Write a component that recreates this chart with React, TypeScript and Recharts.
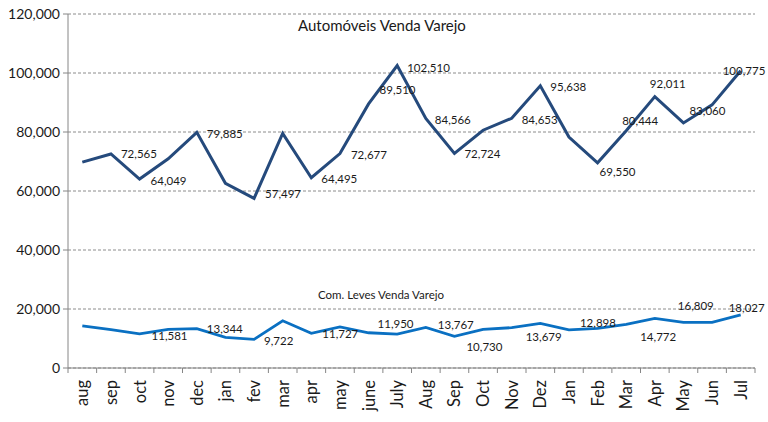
import React from 'react';
import { LineChart, Line, XAxis, YAxis, CartesianGrid } from 'recharts';

const months = [
  'aug', 'sep', 'oct', 'nov', 'dec', 'jan', 'fev', 'mar', 'apr', 'may', 'june', 'July',
  'Aug', 'Sep', 'Oct', 'Nov', 'Dez', 'Jan', 'Feb', 'Mar', 'Apr', 'May', 'Jun', 'Jul',
];

const automoveis = [
  69800, 72565, 64049, 70900, 79885, 62600, 57497, 79500, 64495, 72677, 89510, 102510,
  84566, 72724, 80600, 84653, 95638, 78300, 69550, 80444, 92011, 83060, 89200, 100775,
];

const comLeves = [
  14300, 13000, 11581, 13100, 13344, 10400, 9722, 16000, 11727, 13900, 11950, 11500,
  13767, 10730, 13100, 13679, 15100, 12898, 13400, 14772, 16809, 15500, 15500, 18027,
];

const yTicks = [0, 20000, 40000, 60000, 80000, 100000, 120000];

// label nudges (dx, dy) for the points that carry a data label
const autoLabelNudge: Record<number, [number, number]> = {
  1: [10, 0], 2: [11, 1], 4: [10, 1], 6: [11, -5], 8: [10, 1], 9: [11, 1], 10: [11, -14],
  11: [10, 2], 12: [9, 1], 13: [10, 0], 15: [10, 1], 16: [10, 1], 18: [2, 9], 19: [-4, -10],
  20: [-5, -13], 21: [6, -12], 23: [-18, 0],
};
const levesLabelNudge: Record<number, [number, number]> = {
  2: [12, 2], 4: [10, 0], 6: [10, 1], 8: [11, 0], 10: [9, -9], 12: [12, -3], 13: [12, 10],
  15: [14, 9], 17: [11, -7], 19: [14, 12], 20: [23, -13], 23: [-12, -7],
};

const data = months.map((m, i) => ({ month: m, auto: automoveis[i], leves: comLeves[i] }));

const W = 768;
const H = 422;
const M = { top: 14, right: 13, left: 8, bottom: 0 };
const Y_W = 60;
const STEP = (W - M.left - M.right - Y_W) / months.length;
const FONT = 'Lato, "Open Sans", sans-serif';
const fmt = (v: number) => v.toLocaleString('en-US');

const makeLabel = (nudge: Record<number, [number, number]>) => (props: any) => {
  const { x, y, value, index } = props;
  const n = nudge[index];
  if (!n) return null;
  return (
    <text
      x={x + n[0]}
      y={y + n[1]}
      fontSize={11.5}
      fontFamily={FONT}
      fill="#1a1a1a"
      textAnchor="start"
      dominantBaseline="central"
    >
      {fmt(Number(value))}
    </text>
  );
};

const MonthTick = (props: any) => {
  const { x, y, payload, index } = props;
  const axisY = y - 12;
  const left = x - STEP / 2;
  return (
    <g>
      <line x1={left} y1={axisY} x2={left} y2={axisY + 5} stroke="#868686" />
      {index === months.length - 1 && (
        <line x1={x + STEP / 2} y1={axisY} x2={x + STEP / 2} y2={axisY + 5} stroke="#868686" />
      )}
      <text
        x={x}
        y={y}
        transform={`rotate(-90, ${x}, ${y})`}
        textAnchor="end"
        dominantBaseline="central"
        fontSize={16.5}
        fontFamily={FONT}
        fill="#1a1a1a"
      >
        {payload.value}
      </text>
    </g>
  );
};

const App: React.FC = () => {
  return (
    <div style={{ position: 'absolute', left: 0, top: 0, width: W, height: H, background: '#fff' }}>
      <LineChart width={W} height={H} data={data} margin={M}>
        <CartesianGrid vertical={false} stroke="#8c8c8c" strokeDasharray="3 2" />
        <XAxis
          dataKey="month"
          interval={0}
          height={H - 368}
          padding={{ left: STEP / 2, right: STEP / 2 }}
          stroke="#868686"
          tickLine={false}
          tickSize={5}
          tickMargin={7}
          tick={<MonthTick />}
        />
        <YAxis
          width={Y_W}
          domain={[0, 120000]}
          ticks={yTicks}
          tickFormatter={fmt}
          stroke="#868686"
          tickSize={5}
          tickMargin={3}
          tick={{ fontSize: 14, fontFamily: FONT, fill: '#1a1a1a' }}
        />
        <Line
          dataKey="auto"
          stroke="#254A7C"
          strokeWidth={3}
          dot={false}
          isAnimationActive={false}
          label={makeLabel(autoLabelNudge)}
        />
        <Line
          dataKey="leves"
          stroke="#0A70C2"
          strokeWidth={2.8}
          dot={false}
          isAnimationActive={false}
          label={makeLabel(levesLabelNudge)}
        />
      </LineChart>
      <div
        style={{
          position: 'absolute', left: 298, top: 16, fontSize: 15, lineHeight: '18px',
          fontFamily: FONT, color: '#1a1a1a', whiteSpace: 'nowrap',
        }}
      >
        Automóveis Venda Varejo
      </div>
      <div
        style={{
          position: 'absolute', left: 318, top: 288, fontSize: 11.5, lineHeight: '14px',
          fontFamily: FONT, color: '#1a1a1a', whiteSpace: 'nowrap',
        }}
      >
        Com. Leves Venda Varejo
      </div>
    </div>
  );
};

export default App;
